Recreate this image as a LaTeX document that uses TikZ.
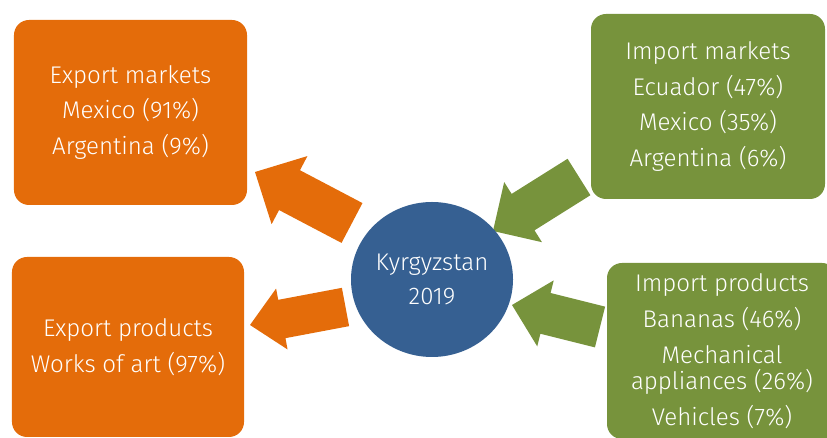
\documentclass[tikz,border=0pt]{standalone}
\usepackage{fontspec}
\setmainfont{Fira Sans}[UprightFont={* Light}]
\usepackage{tikz}
\usetikzlibrary{calc, shapes.geometric}

\definecolor{expfill}{HTML}{E46C0A}
\definecolor{impfill}{HTML}{77933C}
\definecolor{hubfill}{HTML}{366092}

% block arrow: fill, tail, tip, half shaft, half head, head length
\newcommand{\blockarrow}[6]{%
  \path ($(#3)!#6!(#2)$) coordinate (ba-base);
  \fill[#1] ($(#2)!#4!90:(#3)$) -- ($(ba-base)!#4!90:(#3)$) -- ($(ba-base)!#5!90:(#3)$)
    -- (#3) -- ($(ba-base)!#5!-90:(#3)$) -- ($(ba-base)!#4!-90:(#3)$) -- ($(#2)!#4!-90:(#3)$) -- cycle;}

\begin{document}
\begin{tikzpicture}[
    x=0.5bp, y=-0.5bp,
    panel/.style={rectangle, rounded corners=7.5bp, fill=#1, text=white, align=center,
      font=\fontsize{12.1}{18}\selectfont, inner sep=0pt},
    hub/.style={ellipse, fill=hubfill, text=white, align=center,
      font=\fontsize{12.1}{17.5}\selectfont, inner sep=0pt}
]
\useasboundingbox (0,0) rectangle (827,438);
\clip (0,0) rectangle (827,438);

% Arrow ends
\coordinate (a1-tail) at (352,223);
\coordinate (a1-tip) at (255,172);
\coordinate (a2-tail) at (345.5,307);
\coordinate (a2-tip) at (250,325);
\coordinate (a3-tail) at (579,177);
\coordinate (a3-tip) at (493,231);
\coordinate (a4-tail) at (600,327);
\coordinate (a4-tip) at (512,305);

% Block arrows
\blockarrow{expfill}{a1-tail}{a1-tip}{11.25bp}{19.25bp}{19.5bp}
\blockarrow{expfill}{a2-tail}{a2-tip}{9.75bp}{15.5bp}{16.2bp}
\blockarrow{impfill}{a3-tail}{a3-tip}{10.75bp}{17.75bp}{17.75bp}
\blockarrow{impfill}{a4-tail}{a4-tip}{10.5bp}{17bp}{17.25bp}

% Panels
\node[panel=expfill, minimum width=116.5bp, minimum height=92.5bp] (emarkets) at (130.5,112.5)
  {Export markets\\Mexico (91\%)\\Argentina (9\%)};
\node[panel=expfill, minimum width=116bp, minimum height=90bp] (eproducts) at (128,347)
  {Export products\\Works of art (97\%)};
\node[panel=impfill, minimum width=117bp, minimum height=92.5bp] (imarkets) at (708,106.5)
  {Import markets\\Ecuador (47\%)\\Mexico (35\%)\\Argentina (6\%)};
\node[panel=impfill, minimum width=115bp, minimum height=88bp] (iproducts) at (722,351)
  {Import products\\Bananas (46\%)\\Mechanical\\[-5bp]appliances (26\%)\\Vehicles (7\%)};

% Centre
\node[hub, minimum width=81bp, minimum height=77.5bp] (country) at (432,279.5)
  {Kyrgyzstan\\2019};

\end{tikzpicture}
\end{document}
